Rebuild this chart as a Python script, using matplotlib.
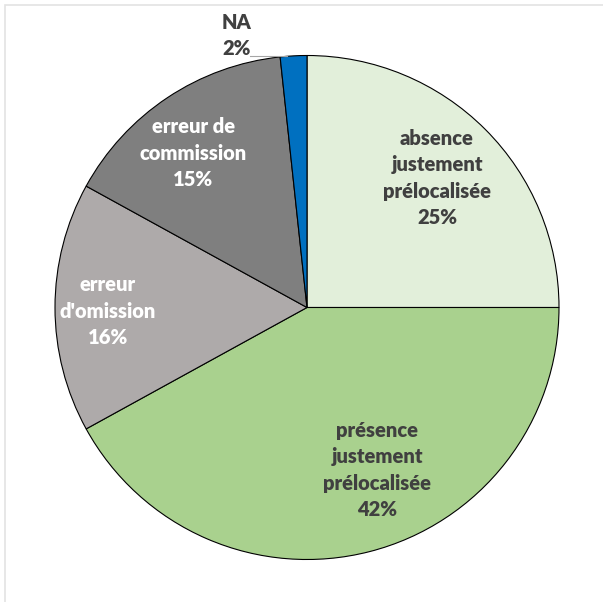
import matplotlib
matplotlib.use("Agg")
import matplotlib.pyplot as plt
from matplotlib.patches import Rectangle

# data
categories = ["absence\njustement\nprélocalisée", "présence\njustement\nprélocalisée",
              "erreur\nd'omission", "erreur de\ncommission", "NA"]
shares = [25.0, 42.0, 16.0, 15.3, 1.7]
pct_labels = ["25%", "42%", "16%", "15%", "2%"]
colors = ["#E2EFDA", "#A9D18E", "#AEAAAA", "#7F7F7F", "#0070C0"]
text_colors = ["#404040", "#404040", "white", "white", "#404040"]
# label centres, in pie-radius units
label_pos = [(0.516, 0.514), (0.278, -0.645), (-0.79, -0.014), (-0.452, 0.613), (-0.28, 1.08)]

plt.rcParams['font.family'] = ['Lato', 'DejaVu Sans']

W, H = 603, 602
fig = plt.figure(figsize=(W / 100, H / 100), dpi=100)
cx, cy, r = 307, 307.5, 252
ax = fig.add_axes([(cx - r) / W, (H - cy - r) / H, 2 * r / W, 2 * r / H])

wedges, _ = ax.pie(shares, colors=colors, startangle=90, counterclock=False, radius=1,
                   wedgeprops=dict(edgecolor="black", linewidth=0.8))
ax.set_xlim(-1, 1)
ax.set_ylim(-1, 1)
ax.set_aspect("auto")
ax.axis("off")

for cat, pct, (x, y), tc in zip(categories, pct_labels, label_pos, text_colors):
    ax.text(x, y, cat + "\n" + pct, ha="center", va="center", color=tc,
            fontsize=14.5, fontweight=800, linespacing=1.45, clip_on=False)

# leader line for the NA label
ax.plot([-0.225, -0.08], [1.0, 1.0], color="#A6A6A6", linewidth=0.8, clip_on=False)

# chart area border
fig.patches.append(Rectangle((5 / W, -0.1), 1.2, 1.1 - 5 / H, transform=fig.transFigure,
                             fill=False, edgecolor="#E3E3E3", linewidth=1.2))

fig.savefig("out.png", dpi=100)
